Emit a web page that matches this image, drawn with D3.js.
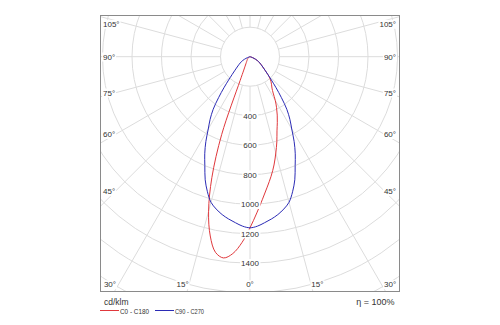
<!DOCTYPE html>
<html>
<head>
<meta charset="utf-8">
<script src="https://cdn.jsdelivr.net/npm/d3@7"></script>
<style>
  html, body { margin: 0; padding: 0; background: #ffffff; }
  svg { display: block; font-family: "Liberation Sans", Arial, sans-serif; }
</style>
</head>
<body>
<svg id="chart" width="500" height="325"></svg>
<script>
// ---- data (cd/klm) ----
const gammaAngles = [0, 2.5, 5, 7.5, 10, 12.5, 15, 17.5, 20, 22.5, 25, 27.5, 30, 32.5, 35, 37.5, 40, 42.5, 45,
  47.5, 50, 52.5, 55, 57.5, 60, 62.5, 65, 67.5, 70, 72.5, 75, 77.5, 80, 82.5, 85, 87.5, 90];
const c0Values   = [1160, 1060, 970, 892, 823, 752, 676, 605, 535, 484, 437, 390, 343, 292, 260, 240, 222, 200, 172,
  142, 120, 103, 90, 78, 68, 55, 42, 30, 18, 8, 0, 0, 0, 0, 0, 0, 0];
const c180Values = [1160, 1262, 1340, 1376, 1347, 1245, 1085, 860, 560, 175, 100, 72, 56, 46, 39, 34, 30, 27, 24,
  22, 20, 18, 16, 14, 12, 10, 8, 6, 4, 2, 0, 0, 0, 0, 0, 0, 0];
const c90Values  = [1160, 1150, 1130, 1110, 1087, 1058, 1022, 960, 888, 800, 726, 648, 566, 503, 435, 350, 275, 215, 172,
  142, 120, 103, 90, 78, 68, 55, 42, 30, 18, 8, 0, 0, 0, 0, 0, 0, 0];
const c270Values = [1160, 1150, 1130, 1110, 1087, 1058, 1022, 960, 888, 800, 726, 648, 566, 503, 435, 350, 275, 215, 172,
  142, 120, 103, 90, 78, 68, 55, 42, 30, 18, 8, 0, 0, 0, 0, 0, 0, 0];

const seriesNames = ["C0 - C180", "C90 - C270"];
const seriesColors = ["#e0383c", "#2b2bb5"];
const gridCircleValues = [200, 400, 600, 800, 1000, 1200, 1400, 1600, 1800, 2000, 2200];
const valueTickLabels = [400, 600, 800, 1000, 1200, 1400];
const angleTickLeft = [105, 90, 75, 60, 45];
const angleTickBottom = [30, 15, 0, 15, 30];
const angleTickRight = [45, 60, 75, 90, 105];
const unitLabel = "cd/klm";
const efficiencyLabel = "\u03B7 = 100%";

// ---- layout ----
const frame = { left: 100.5, right: 399.5, top: 15.5, bottom: 291.5 };
const cx = 250, cy = 56.7;
const svg = d3.select("#chart");
const rad = d3.scaleLinear().domain([0, 200]).range([0, 29.5]);
const toRad = d => d * Math.PI / 180;

svg.append("defs").append("clipPath").attr("id", "clip")
  .append("rect").attr("x", frame.left).attr("y", frame.top)
  .attr("width", frame.right - frame.left).attr("height", frame.bottom - frame.top);

const plot = svg.append("g").attr("clip-path", "url(#clip)");
const grid = plot.append("g").attr("transform", `translate(${cx},${cy})`);
const gridColor = "#dcdcdc";

grid.selectAll("circle").data(gridCircleValues).join("circle")
  .attr("r", d => rad(d)).attr("fill", "none")
  .attr("stroke", gridColor).attr("stroke-width", 1);

const spokes = d3.range(0, 360, 15);
grid.selectAll("line.spoke").data(spokes).join("line").attr("class", "spoke")
  .attr("x1", d => Math.sin(toRad(d)) * rad(200))
  .attr("y1", d => Math.cos(toRad(d)) * rad(200))
  .attr("x2", d => Math.sin(toRad(d)) * rad(2400))
  .attr("y2", d => Math.cos(toRad(d)) * rad(2400))
  .attr("stroke", gridColor).attr("stroke-width", 1);

// ---- curves ----
function buildPoints(leftVals, rightVals) {
  const pts = [];
  for (let i = gammaAngles.length - 1; i >= 0; i--) pts.push([Math.PI + toRad(gammaAngles[i]), rad(leftVals[i])]);
  for (let i = 1; i < gammaAngles.length; i++) pts.push([Math.PI - toRad(gammaAngles[i]), rad(rightVals[i])]);
  return pts;
}
const radialLine = d3.lineRadial().angle(d => d[0]).radius(d => d[1]).curve(d3.curveCatmullRom.alpha(0.5));
const curveG = plot.append("g").attr("transform", `translate(${cx},${cy})`);
const seriesData = [buildPoints(c180Values, c0Values), buildPoints(c270Values, c90Values)];
curveG.selectAll("path").data(seriesData).join("path")
  .attr("d", radialLine).attr("fill", "none")
  .attr("stroke", (d, i) => seriesColors[i]).attr("stroke-width", 1);

// ---- labels with white backgrounds ----
const labelG = svg.append("g").attr("fill", "#333").style("font-size", "8px");
function addLabel(x, y, text, anchor) {
  const g = labelG.append("g");
  const t = g.append("text").attr("x", x).attr("y", y).attr("dy", "0.35em")
    .attr("text-anchor", anchor).text(text);
  const bb = t.node().getBBox();
  g.insert("rect", "text").attr("x", bb.x - 1).attr("y", bb.y)
    .attr("width", bb.width + 2).attr("height", bb.height).attr("fill", "#fff");
}
valueTickLabels.forEach(v => addLabel(cx, cy + rad(v), String(v), "middle"));

const sideDx = 140;
function sideY(a) {
  const y = cy + sideDx * Math.cos(toRad(a)) / Math.sin(toRad(a)) * 0.96;
  return Math.max(y, frame.top + 8.5);
}
angleTickLeft.forEach(a => addLabel(frame.left + 2.5, sideY(a), a + "\u00B0", "start"));
angleTickRight.forEach(a => addLabel(frame.right - 3.5, sideY(a), a + "\u00B0", "end"));
const bottomDy = frame.bottom - cy;
angleTickBottom.forEach((a, i) => {
  const sign = i < 2 ? -1 : (i > 2 ? 1 : 0);
  const x = cx + sign * (bottomDy * Math.tan(toRad(a)) + 4.5);
  addLabel(x, frame.bottom - 7, a + "\u00B0", "middle");
});

// ---- frame ----
svg.append("rect").attr("x", frame.left).attr("y", frame.top)
  .attr("width", frame.right - frame.left).attr("height", frame.bottom - frame.top)
  .attr("fill", "none").attr("stroke", "#8a8a8a").attr("stroke-width", 1);

// ---- legend ----
const legend = svg.append("g").attr("fill", "#333");
legend.append("text").attr("x", 104).attr("y", 304.5).style("font-size", "8.5px").text(unitLabel);
legend.append("text").attr("x", 394.5).attr("y", 304.5).attr("text-anchor", "end")
  .style("font-size", "9px").text(efficiencyLabel);
const legendX = [100, 155];
seriesNames.forEach((name, i) => {
  legend.append("line").attr("x1", legendX[i]).attr("x2", legendX[i] + 19)
    .attr("y1", 310.5).attr("y2", 310.5).attr("stroke", seriesColors[i]).attr("stroke-width", 1);
  legend.append("text").attr("x", legendX[i] + 20).attr("y", 313.5)
    .attr("textLength", 29).attr("lengthAdjust", "spacingAndGlyphs")
    .style("font-size", "8px").text(name);
});
</script>
</body>
</html>
